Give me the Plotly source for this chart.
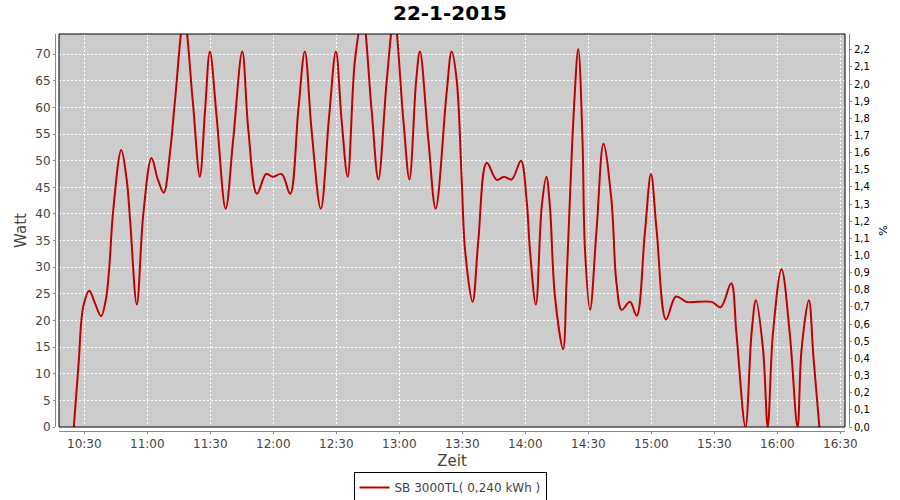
import plotly.graph_objects as go

# ---- data ----
times = [
    "10:25:00", "10:27:18", "10:29:30", "10:32:24", "10:35:00", "10:38:00", "10:40:18", "10:41:48",
    "10:43:48", "10:47:36", "10:50:12", "10:51:48", "10:55:00", "10:58:06", "11:02:00", "11:05:00",
    "11:07:48", "11:10:48", "11:13:12", "11:17:30", "11:21:36", "11:25:00", "11:27:30", "11:29:48",
    "11:33:00", "11:37:18", "11:40:54", "11:45:12", "11:48:06", "11:52:12", "11:56:36", "11:59:42",
    "12:04:00", "12:08:00", "12:11:54", "12:15:00", "12:18:12", "12:22:36", "12:26:30", "12:29:48",
    "12:32:30", "12:35:24", "12:38:54", "12:42:30", "12:46:48", "12:50:00", "12:54:00", "12:57:30",
    "13:01:54", "13:04:48", "13:08:00", "13:09:48", "13:13:48", "13:17:18", "13:22:30", "13:24:54",
    "13:27:18", "13:29:42", "13:31:18", "13:34:54", "13:37:36", "13:41:36", "13:46:24", "13:49:48",
    "13:53:30", "13:57:54", "14:00:36", "14:02:12", "14:05:00", "14:07:48", "14:10:00", "14:11:42",
    "14:14:06", "14:18:00", "14:19:36", "14:21:12", "14:23:06", "14:25:12", "14:27:12", "14:28:24",
    "14:30:48", "14:33:54", "14:37:12", "14:41:00", "14:43:24", "14:45:54", "14:49:48", "14:53:00",
    "14:56:54", "14:59:48", "15:02:30", "15:07:00", "15:11:42", "15:16:42", "15:22:00", "15:28:42",
    "15:33:00", "15:38:00", "15:40:30", "15:44:48", "15:47:42", "15:49:48", "15:53:12", "15:55:24",
    "15:57:54", "16:02:00", "16:05:54", "16:09:36", "16:11:30", "16:15:00", "16:17:12", "16:20:00",
]
watt = [
    0, 12, 22.6, 25.6, 23.3, 20.8, 24, 29.5,
    40.8, 52, 46.4, 38.9, 23, 40, 50.5, 46.5,
    44, 51.5, 61.4, 77, 61.4, 47, 59.5, 70.5,
    58.3, 41, 54, 70.5, 55.8, 43.8, 47.5, 47,
    47.5, 43.8, 59.5, 70.5, 55.8, 41, 58, 70.5,
    57.7, 47, 69, 77, 59.5, 46.5, 65, 77,
    57.7, 46.5, 65, 70.5, 54, 41, 62.7, 70.5,
    65.2, 46.4, 33.2, 23.5, 35, 49.6, 46.4, 47,
    46.5, 50, 42.6, 33.2, 23, 41.4, 47, 41.4,
    24.5, 14.6, 27, 42.6, 59.5, 71, 54, 33.2,
    22, 37, 53.2, 42.6, 27, 22, 23.5, 20.9,
    36.4, 47.5, 37, 20.2, 24.5, 23.5, 23.5, 23.5,
    22.5, 27, 17.6, 0, 17.6, 23.8, 14.5, 0,
    17.6, 29.6, 17.6, 0, 14.5, 23.8, 13, 0,
]
day = "2015-01-22"
x_vals = [f"{day} {t}" for t in times]

series_name = "SB 3000TL( 0,240 kWh )"
chart_title = "22-1-2015"
x_range = [f"{day} 10:17:57", f"{day} 16:32:12"]
y_range = [0, 73.8]
y2_range = [0, 2.292]

# ---- layout geometry ----
W, H = 900, 500
ml, mr, mt, mb = 55, 51, 34, 69
pw = W - ml - mr
ph = H - mt - mb
gap = 4
xd = [gap / pw, 1 - gap / pw]
yd = [gap / ph, 1]

fig = go.Figure()
fig.add_trace(go.Scatter(
    x=x_vals, y=watt, mode="lines", name=series_name,
    line=dict(color="#c00000", width=2, shape="spline", smoothing=1.0),
))
fig.add_trace(go.Scatter(
    x=[x_vals[0]], y=[None], yaxis="y2", mode="lines", showlegend=False, hoverinfo="skip",
))

grid = dict(showgrid=True, gridcolor="white", gridwidth=1, griddash="2px,2px")

fig.update_layout(
    width=W, height=H,
    margin=dict(l=ml, r=mr, t=mt, b=mb, autoexpand=False),
    paper_bgcolor="white", plot_bgcolor="#cccccc",
    separators=",.",
    font=dict(family="DejaVu Sans", color="#444444"),
    title=dict(text=f"<b>{chart_title}</b>", x=0.5, xref="container", xanchor="center",
               y=1 - 13 / H, yref="container", yanchor="middle", automargin=False,
               font=dict(size=20, color="black", family="DejaVu Sans")),
    xaxis=dict(domain=xd, anchor="free", position=0, type="date", range=x_range,
               dtick=30 * 60 * 1000, tick0=f"{day} 10:30:00", tickformat="%H:%M",
               showline=True, linecolor="#888888", ticks="outside", ticklen=2, tickcolor="#888888",
               tickfont=dict(size=12, color="#444444"), automargin=False,
               title=dict(text="Zeit", font=dict(size=15, color="#444444"), standoff=5),
               zeroline=False, **grid),
    yaxis=dict(domain=yd, anchor="free", position=0, range=y_range, dtick=5,
               showline=True, linecolor="#888888", ticks="outside", ticklen=2, tickcolor="#888888",
               tickfont=dict(size=12, color="#444444"), automargin=False,
               title=dict(text="Watt", font=dict(size=15, color="#444444"), standoff=4),
               zeroline=False, **grid),
    yaxis2=dict(overlaying="y", side="right", anchor="free", position=1, range=y2_range,
                dtick=0.1, tickformat=".1f", showgrid=False, zeroline=False, automargin=False,
                showline=True, linecolor="#888888", ticks="outside", ticklen=2, tickcolor="#888888",
                tickfont=dict(size=10, color="black"),
                title=dict(text="%", font=dict(size=11, color="black"), standoff=10)),
    legend=dict(orientation="h", x=0.5, xref="container", xanchor="center",
                y=1 - 472 / H, yref="container", yanchor="top",
                bordercolor="black", borderwidth=1, bgcolor="white",
                font=dict(size=12, color="#444444"), itemwidth=30),
    showlegend=True,
    shapes=[dict(type="rect", xref="paper", yref="paper", x0=xd[0], x1=xd[1], y0=yd[0], y1=yd[1],
                 line=dict(color="black", width=1), layer="above")],
)

fig.write_html("out.html", config={"displayModeBar": False},
               post_script="document.body.style.margin='0';document.body.style.overflow='hidden';")
